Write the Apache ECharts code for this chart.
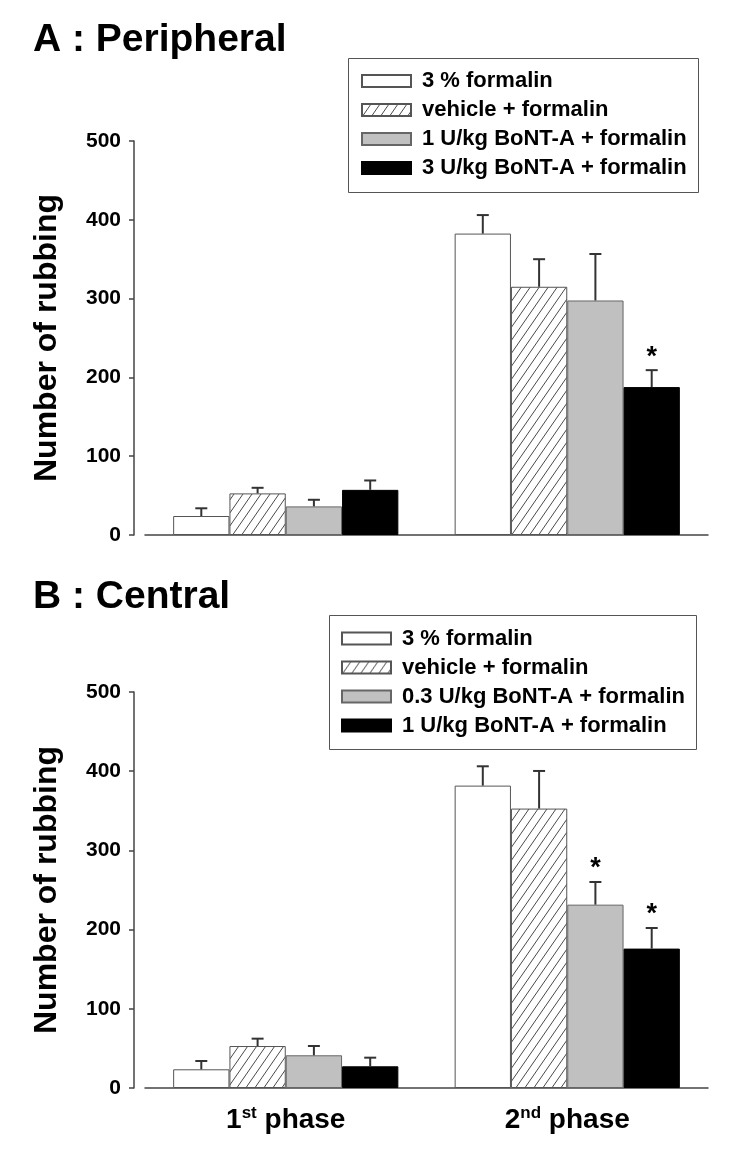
<!DOCTYPE html>
<html>
<head>
<meta charset="utf-8">
<script src="https://cdn.jsdelivr.net/npm/echarts@6/dist/echarts.min.js"></script>
<style>
html,body{margin:0;padding:0;background:#fff;}
#chart{width:739px;height:1155px;}
</style>
</head>
<body>
<div id="chart"></div>
<script>
// ---------- data ----------
const categories = ['1st phase', '2nd phase'];
const phaseNum = ['1', '2'];
const phaseSup = ['st', 'nd'];
const yMin = 0, yMax = 500, yStep = 100;

const namesA = ['3 % formalin', 'vehicle + formalin', '1 U/kg BoNT-A + formalin', '3 U/kg BoNT-A + formalin'];
const namesB = ['3 % formalin', 'vehicle + formalin', '0.3 U/kg BoNT-A + formalin', '1 U/kg BoNT-A + formalin'];

// Panel A : Peripheral (mean, upper error)
const aFormalin = [24.1, 382.5];   const aFormalinErr = [9.8, 23.5];
const aVehicle  = [52.8, 315.0];   const aVehicleErr  = [7.1, 35.0];
const aLow      = [36.3, 297.6];   const aLowErr      = [8.4, 59.0];
const aHigh     = [57.3, 187.7];   const aHighErr     = [11.9, 21.5];
const aStar     = [[0, 0], [0, 0], [0, 0], [0, 1]];

// Panel B : Central
const bFormalin = [23.6, 381.8];   const bFormalinErr = [10.5, 24.4];
const bVehicle  = [53.0, 352.8];   const bVehicleErr  = [9.3, 47.5];
const bLow      = [41.3, 231.5];   const bLowErr      = [11.7, 28.6];
const bHigh     = [27.4, 176.0];   const bHighErr     = [10.9, 26.0];
const bStar     = [[0, 0], [0, 0], [0, 1], [0, 1]];

// ---------- styling helpers ----------
const FONT = "'Liberation Sans', Arial, Helvetica, sans-serif";

function hatchPattern() {
  const w = 9, h = 13;
  const c = document.createElement('canvas');
  c.width = w; c.height = h;
  const g = c.getContext('2d');
  g.fillStyle = '#ffffff';
  g.fillRect(0, 0, w, h);
  g.strokeStyle = '#4a4a4a';
  g.lineWidth = 1;
  for (const dx of [-w, 0, w]) {
    g.beginPath();
    g.moveTo(dx - 1, h + h / w);
    g.lineTo(dx + w + 1, -h / w);
    g.stroke();
  }
  return { image: c, repeat: 'repeat' };
}
const fills = ['#ffffff', hatchPattern(), '#c0c0c0', '#000000'];
const borders = ['#555555', '#555555', '#666666', '#000000'];

const meansA = [aFormalin, aVehicle, aLow, aHigh];
const errsA = [aFormalinErr, aVehicleErr, aLowErr, aHighErr];
const meansB = [bFormalin, bVehicle, bLow, bHigh];
const errsB = [bFormalinErr, bVehicleErr, bLowErr, bHighErr];

function barSeries(names, means, axisIdx, prefix) {
  return names.map((n, i) => ({
    name: prefix + n,
    type: 'bar',
    xAxisIndex: axisIdx,
    yAxisIndex: axisIdx,
    data: means[i],
    barGap: '0%',
    barCategoryGap: '20%',
    itemStyle: { color: fills[i], borderColor: borders[i], borderWidth: 1 },
    emphasis: { disabled: true },
    z: 2
  }));
}

function errSeries(means, errs, stars, axisIdx) {
  const data = [];
  means.forEach((m, s) => {
    m.forEach((v, c) => {
      data.push([c, s, v, v + errs[s][c], stars[s][c]]);
    });
  });
  return {
    type: 'custom',
    xAxisIndex: axisIdx,
    yAxisIndex: axisIdx,
    data: data,
    encode: { x: 0, y: 3 },
    z: 5,
    silent: true,
    renderItem: function (params, api) {
      const cat = api.value(0), s = api.value(1), mean = api.value(2), top = api.value(3), sig = api.value(4);
      const bw = api.size([1, 0])[0] * 0.8 / 4;
      const p0 = api.coord([cat, mean]);
      const p1 = api.coord([cat, top]);
      const x = p0[0] + (s - 1.5) * bw;
      const st = { stroke: '#333333', lineWidth: 2 };
      const children = [
        { type: 'line', shape: { x1: x, y1: p0[1], x2: x, y2: p1[1] }, style: st },
        { type: 'line', shape: { x1: x - 6, y1: p1[1], x2: x + 6, y2: p1[1] }, style: st }
      ];
      if (sig) {
        children.push({
          type: 'text',
          style: { text: '*', x: x, y: p1[1] - 13, align: 'center', verticalAlign: 'middle',
                   font: 'bold 27px ' + FONT, fill: '#000' }
        });
      }
      return { type: 'group', children: children };
    }
  };
}

function yAxis(gridIdx) {
  return {
    type: 'value', gridIndex: gridIdx, min: yMin, max: yMax, interval: yStep,
    offset: 11,
    name: 'Number of rubbing', nameLocation: 'middle', nameGap: 71,
    nameTextStyle: { fontFamily: FONT, fontWeight: 'bold', fontSize: 32, color: '#000' },
    axisLine: { show: true, lineStyle: { color: '#444', width: 1.5 } },
    axisTick: { show: true, length: 5, lineStyle: { color: '#444', width: 1.5 } },
    axisLabel: { fontFamily: FONT, fontWeight: 'bold', fontSize: 21, color: '#000', margin: 13 },
    splitLine: { show: false }
  };
}

function xAxis(gridIdx, showLabels) {
  return {
    type: 'category', gridIndex: gridIdx, data: categories,
    axisLine: { show: true, lineStyle: { color: '#444', width: 1.5 } },
    axisTick: { show: false },
    axisLabel: {
      show: showLabels, margin: 17, interval: 0,
      formatter: function (v, idx) { return '{m|' + phaseNum[idx] + '}{s|' + phaseSup[idx] + '}{m| phase}'; },
      rich: {
        m: { fontFamily: FONT, fontWeight: 'bold', fontSize: 28, color: '#000', lineHeight: 30 },
        s: { fontFamily: FONT, fontWeight: 'bold', fontSize: 17, color: '#000', lineHeight: 16, verticalAlign: 'top' }
      }
    }
  };
}

function legend(names, left, top, prefix) {
  return {
    orient: 'vertical', left: left, top: top, padding: 0,
    data: names.map(n => prefix + n),
    icon: 'rect', itemWidth: 49, itemHeight: 12, itemGap: 7,
    selectedMode: false,
    formatter: function (n) { return n.replace(/^B\|/, ''); },
    textStyle: { fontFamily: FONT, fontWeight: 'bold', fontSize: 22, color: '#000', lineHeight: 22, padding: [0, 0, 0, 6] }
  };
}

const chart = echarts.init(document.getElementById('chart'), null, { renderer: 'canvas' });
chart.setOption({
  animation: false,
  backgroundColor: '#ffffff',
  grid: [
    { left: 145, right: 31, top: 141, height: 394 },
    { left: 145, right: 31, top: 692, height: 396 }
  ],
  xAxis: [xAxis(0, false), xAxis(1, true)],
  yAxis: [yAxis(0), yAxis(1)],
  legend: [legend(namesA, 361, 70, ''), legend(namesB, 341, 627.5, 'B|')],
  graphic: [
    { type: 'rect', shape: { x: 348.5, y: 58.5, width: 350, height: 134 }, style: { fill: 'none', stroke: '#555', lineWidth: 1 }, z: 0 },
    { type: 'rect', shape: { x: 329.5, y: 615.5, width: 367, height: 134 }, style: { fill: 'none', stroke: '#555', lineWidth: 1 }, z: 0 },
    { type: 'text', left: 33, top: 21, style: { text: 'A : Peripheral', font: 'bold 39px ' + FONT, fill: '#000' } },
    { type: 'text', left: 33, top: 578, style: { text: 'B : Central', font: 'bold 39px ' + FONT, fill: '#000' } }
  ],
  series: [].concat(
    barSeries(namesA, meansA, 0, ''),
    [errSeries(meansA, errsA, aStar, 0)],
    barSeries(namesB, meansB, 1, 'B|'),
    [errSeries(meansB, errsB, bStar, 1)]
  )
});
</script>
</body>
</html>
